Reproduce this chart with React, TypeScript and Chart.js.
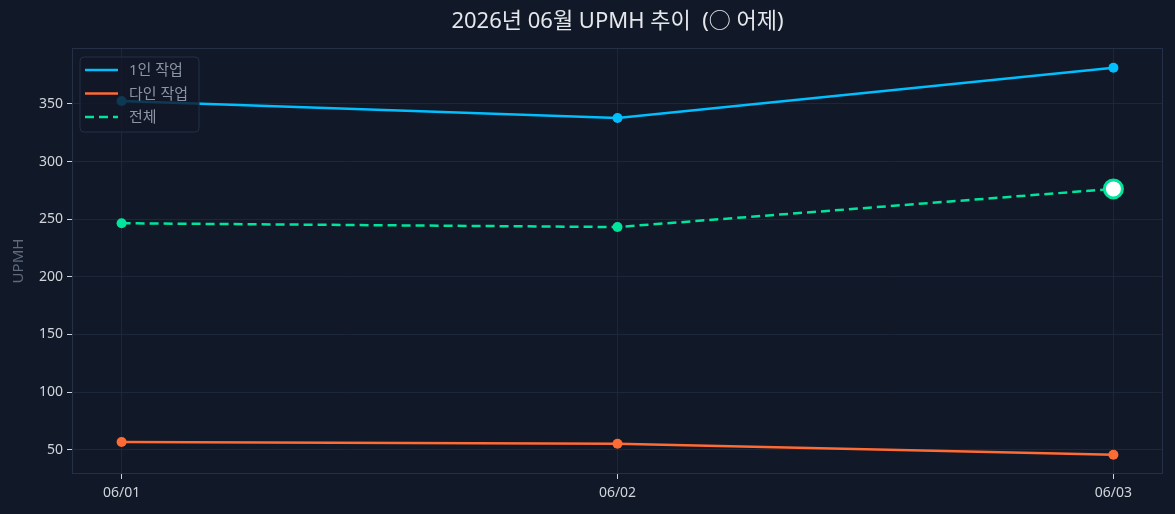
import React, { useEffect, useRef } from "react";
import { Chart, registerables } from "chart.js";

Chart.register(...registerables);

// data
const dates = ["06/01", "06/02", "06/03"];
const seriesLabels = ["1인 작업", "다인 작업", "전체"];
const soloUpmh = [352.6, 337.8, 381.3];
const multiUpmh = [56.8, 55.2, 45.7];
const totalUpmh = [246.5, 243.2, 276.3];
const yTickValues = [50, 100, 150, 200, 250, 300, 350];
const chartTitle = "2026년 06월 UPMH 추이  (○ 어제)";

const BG = "#111827";
const GRID = "#1c2739";
const FRAME = "#243046";
const FONT = "'Noto Sans', 'Noto Sans CJK KR', sans-serif";

const toPoints = (vals: number[]) => vals.map((v, i) => ({ x: i, y: v }));

// plot frame on all four sides, like a matplotlib axes box
const frame = {
  id: "frame",
  beforeDatasetsDraw(chart: any) {
    const { ctx, chartArea: a } = chart;
    ctx.save();
    ctx.strokeStyle = FRAME;
    ctx.lineWidth = 1;
    ctx.strokeRect(a.left + 0.5, a.top + 0.5, a.right - a.left - 1, a.bottom - a.top - 1);
    ctx.restore();
  },
};

// legend drawn inside the plot, over the lines
const insideLegend = {
  id: "insideLegend",
  afterDatasetsDraw(chart: any) {
    const { ctx, chartArea } = chart;
    const x = chartArea.left + 8;
    const y = chartArea.top + 9;
    ctx.save();
    ctx.beginPath();
    ctx.roundRect(x, y, 119, 75, 4);
    ctx.fillStyle = "rgba(17,24,39,0.8)";
    ctx.fill();
    ctx.strokeStyle = FRAME;
    ctx.lineWidth = 1;
    ctx.stroke();
    chart.data.datasets.forEach((ds: any, i: number) => {
      const rowY = y + 13 + i * 23.5;
      ctx.beginPath();
      ctx.setLineDash(ds.borderDash || []);
      ctx.strokeStyle = ds.borderColor;
      ctx.lineWidth = 2.5;
      ctx.moveTo(x + 5, rowY);
      ctx.lineTo(x + 38, rowY);
      ctx.stroke();
      ctx.setLineDash([]);
      ctx.fillStyle = "#8b95a5";
      ctx.font = `15px ${FONT}`;
      ctx.textBaseline = "middle";
      ctx.fillText(ds.label, x + 49, rowY + 1);
    });
    ctx.restore();
  },
};

const UpmhChart: React.FC = () => {
  const chartRef = useRef<HTMLCanvasElement | null>(null);

  useEffect(() => {
    if (!chartRef.current) return;
    const ctx = chartRef.current.getContext("2d");
    if (!ctx) return;
    const lastIdx = totalUpmh.length - 1;

    const myChart = new Chart(ctx, {
      type: "line",
      data: {
        datasets: [
          {
            label: seriesLabels[0],
            data: toPoints(soloUpmh),
            borderColor: "#00bfff",
            backgroundColor: "#00bfff",
            borderWidth: 2.5,
            pointRadius: 5,
            pointBorderWidth: 0,
          },
          {
            label: seriesLabels[1],
            data: toPoints(multiUpmh),
            borderColor: "#ff6b35",
            backgroundColor: "#ff6b35",
            borderWidth: 2.5,
            pointRadius: 5,
            pointBorderWidth: 0,
          },
          {
            label: seriesLabels[2],
            data: toPoints(totalUpmh),
            borderColor: "#00e59b",
            backgroundColor: "#00e59b",
            borderWidth: 2.5,
            borderDash: [9, 5],
            pointRadius: totalUpmh.map((_, i) => (i === lastIdx ? 9 : 5)),
            pointBackgroundColor: totalUpmh.map((_, i) => (i === lastIdx ? "#ffffff" : "#00e59b")),
            pointBorderColor: "#00e59b",
            pointBorderWidth: totalUpmh.map((_, i) => (i === lastIdx ? 3 : 0)),
          },
        ],
      },
      options: {
        responsive: false,
        animation: false,
        layout: { padding: { left: 0, right: 11, top: 0, bottom: 0 } },
        scales: {
          x: {
            type: "linear",
            min: -0.1,
            max: 2.1,
            afterBuildTicks: (scale: any) => {
              scale.ticks = dates.map((_, i) => ({ value: i }));
            },
            afterFit: (scale: any) => {
              scale.height = 40;
            },
            ticks: {
              color: "#d1d5db",
              font: { size: 14, family: FONT },
              padding: 6,
              maxRotation: 0,
              callback: (v: any) => dates[v] ?? "",
            },
            grid: { color: GRID, tickColor: "#cbd5e1", tickLength: 5, drawTicks: true },
            border: { display: false },
          },
          y: {
            min: 29,
            max: 398.5,
            afterBuildTicks: (scale: any) => {
              scale.ticks = yTickValues.map((v) => ({ value: v }));
            },
            afterFit: (scale: any) => {
              scale.width = 72;
            },
            ticks: {
              color: "#d1d5db",
              font: { size: 14, family: FONT },
              padding: 4,
            },
            grid: { color: GRID, tickColor: "#cbd5e1", tickLength: 5, drawTicks: true },
            border: { display: false },
            title: {
              display: true,
              text: "UPMH",
              color: "#5f6a7c",
              font: { size: 15, family: FONT },
              padding: { top: 10, bottom: 0 },
            },
          },
        },
        plugins: {
          legend: { display: false },
          tooltip: { enabled: false },
          title: {
            display: true,
            fullSize: false,
            text: chartTitle,
            color: "#e5e7eb",
            font: { size: 22, weight: "normal", family: FONT },
            padding: { top: 9, bottom: 12.6 },
          },
        },
      },
      plugins: [frame, insideLegend],
    });

    return () => {
      myChart.destroy();
    };
  }, []);

  return <canvas ref={chartRef} width={1175} height={514} style={{ display: "block" }}></canvas>;
};

export default function App() {
  return (
    <div style={{ position: "fixed", left: 0, top: 0, width: 1175, height: 514, background: BG }}>
      <UpmhChart />
    </div>
  );
}
